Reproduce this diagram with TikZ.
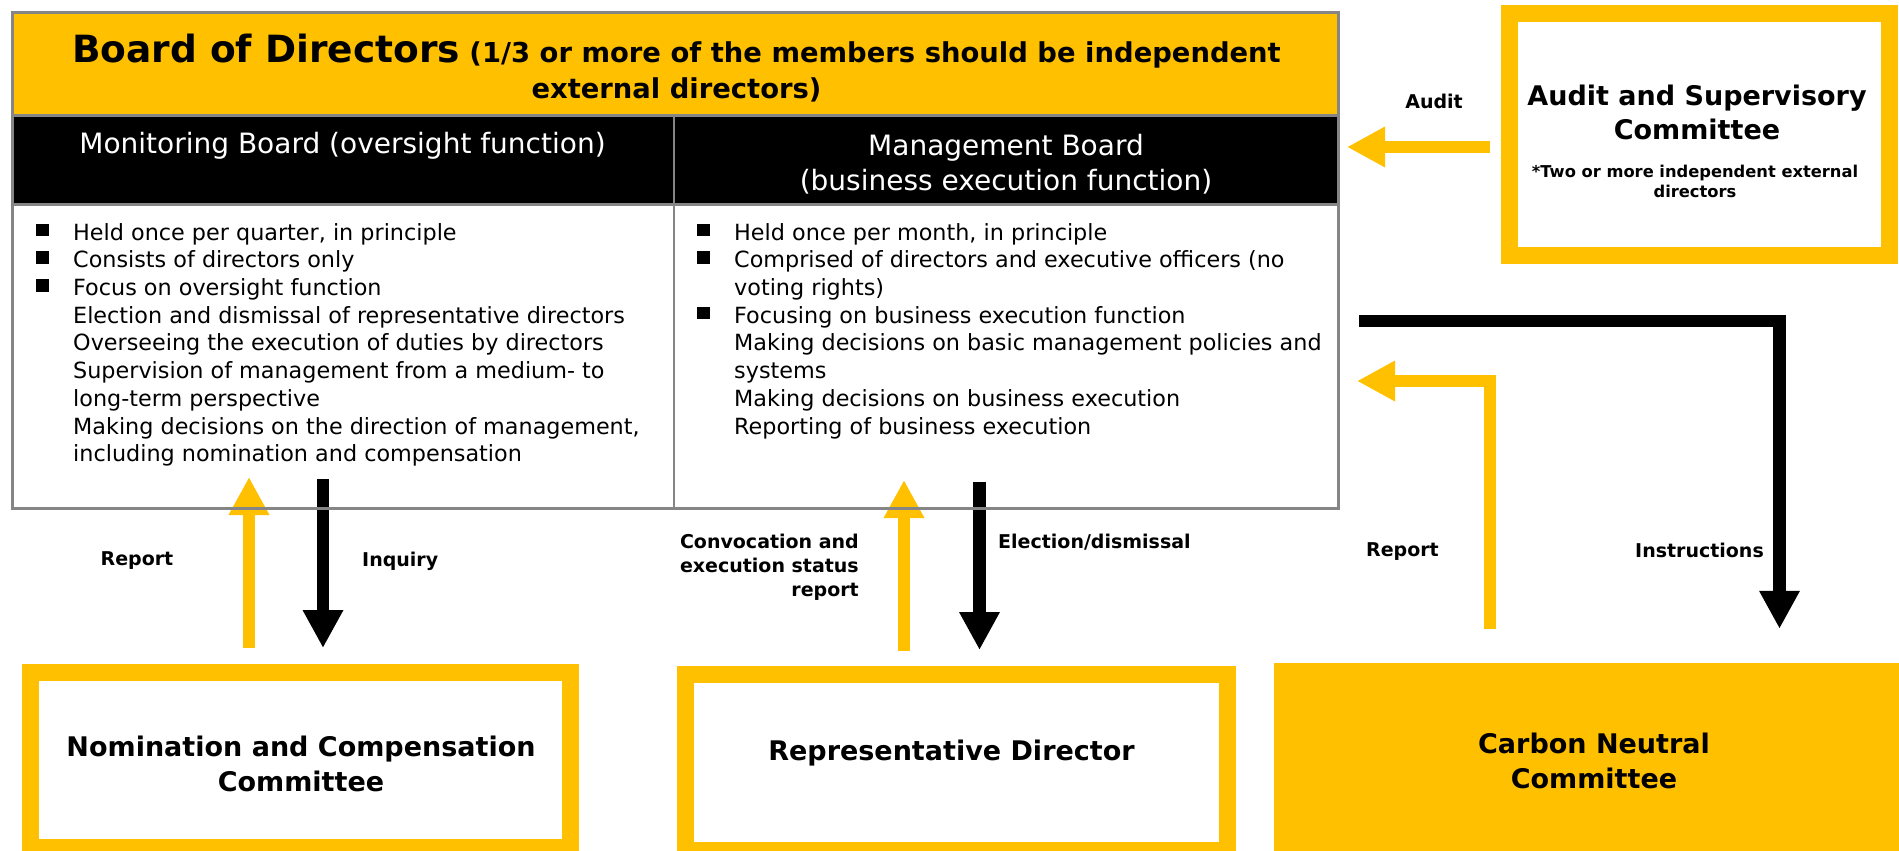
\documentclass[tikz,border=0pt]{standalone}
\usepackage{fontspec}
\setmainfont{DejaVu Sans}
\usepackage{tikz}
\usetikzlibrary{arrows.meta}
\usetikzlibrary{backgrounds}
\usetikzlibrary{calc}

\definecolor{gold}{HTML}{FFC000}
\definecolor{rulegray}{HTML}{858585}

\newcommand{\setsize}[2]{\fontsize{#1pt}{#2pt}\selectfont}
\newcommand{\bul}{\makebox[37pt][l]{\rule[4pt]{12.5pt}{12.5pt}}}
\newcommand{\nob}{\makebox[37pt][l]{}}

\begin{document}
\begin{tikzpicture}[x=1pt, y=-1pt,
  cell/.style={rectangle, draw=rulegray, line width=2.5pt, outer sep=0pt, inner sep=0pt},
  combox/.style={rectangle, draw=gold, line width=17pt, fill=white, outer sep=0pt, inner sep=0pt},
  comtext/.style={font=\bfseries\setsize{27}{35}, align=center, inner sep=0pt},
  bodytext/.style={font=\setsize{22.3}{27.7}, align=left, inner sep=0pt, anchor=north west},
  headtext/.style={font=\setsize{28}{35}, text=white, align=center, inner sep=0pt},
  lbl/.style={font=\bfseries\setsize{19}{24}, inner sep=0pt},
  goldarrow/.style={draw=gold, line width=12.5pt, -{Triangle[width=38pt,length=38pt]}},
  blackarrow/.style={draw=black, line width=12.5pt, line join=miter, -{Triangle[width=38pt,length=38pt]}}]
  \useasboundingbox (0,0) rectangle (1899,851);

  \node[cell, fill=gold, minimum width=1326pt, minimum height=103pt] (title) at (675.5,64) {};
  \node[cell, fill=black, minimum width=661.5pt, minimum height=89pt] (monhead) at (343.25,160) {};
  \node[cell, fill=black, minimum width=664.5pt, minimum height=89pt] (mgmthead) at (1006.25,160) {};
  \node[cell, minimum width=661.5pt, minimum height=304pt] (monbody) at (343.25,356.5) {};
  \node[cell, minimum width=664.5pt, minimum height=304pt] (mgmtbody) at (1006.25,356.5) {};

  \node[font=\bfseries\setsize{27.4}{36}, align=center, inner sep=0pt] (titletext) at (676.5,68.5)
    {{\setsize{37.5}{36}Board of Directors} (1/3 or more of the members should be independent\\external directors)};
  \node[headtext] (montitle) at (342.5,146) {Monitoring Board (oversight function)};
  \node[headtext] (mgmttitle) at (1006,164.5) {Management Board\\(business execution function)};

  \node[bodytext] (montext) at (36,223) {\bul Held once per quarter, in principle\\
    \bul Consists of directors only\\
    \bul Focus on oversight function\\
    \nob Election and dismissal of representative directors\\
    \nob Overseeing the execution of duties by directors\\
    \nob Supervision of management from a medium- to\\
    \nob long-term perspective\\
    \nob Making decisions on the direction of management,\\
    \nob including nomination and compensation};
  \node[bodytext] (mgmttext) at (697,223) {\bul Held once per month, in principle\\
    \bul Comprised of directors and executive officers (no\\
    \nob voting rights)\\
    \bul Focusing on business execution function\\
    \nob Making decisions on basic management policies and\\
    \nob systems\\
    \nob Making decisions on business execution\\
    \nob Reporting of business execution};

  \node[combox, minimum width=540pt, minimum height=175pt] (nomi) at (300.5,760) {};
  \node[comtext] (nomitext) at (301,764) {Nomination and Compensation\\Committee};
  \node[combox, minimum width=542pt, minimum height=176pt] (repdir) at (956.5,762.5) {};
  \node[comtext] (repdirtext) at (951.5,753) {Representative Director};
  \node[comtext, fill=gold, minimum width=640pt, minimum height=196pt] (carbon) at (1594,761) {Carbon Neutral\\Committee};
  \node[combox, minimum width=380pt, minimum height=241.5pt] (audit) at (1699.5,134.75) {};
  \node[comtext, font=\bfseries\setsize{27}{34}] (audittext) at (1697,112.8) {Audit and Supervisory\\Committee};
  \node[font=\bfseries\setsize{16.3}{20}, align=center, inner sep=0pt] (auditnote) at (1695,181.8)
    {*Two or more independent external\\directors};

  \begin{scope}[on background layer]
    \draw[goldarrow] ([xshift=-51.5pt,yshift=24.5pt]nomi.north) -- ([xshift=-94.25pt,yshift=31.5pt]monbody.south);
    \draw[blackarrow] ([xshift=-20.25pt,yshift=29.5pt]monbody.south) -- ([xshift=22.5pt,yshift=24.5pt]nomi.north);
    \draw[goldarrow] ([xshift=-52.5pt,yshift=23.5pt]repdir.north) -- ([xshift=-102.25pt,yshift=28.5pt]mgmtbody.south);
    \draw[blackarrow] ([xshift=-26.75pt,yshift=26.5pt]mgmtbody.south) -- ([xshift=23pt,yshift=24.5pt]repdir.north);
    \draw[goldarrow] ([xshift=-19.5pt,yshift=-12.25pt]audit.west) -- ([xshift=8.5pt,yshift=13pt]mgmthead.east);
    \draw[blackarrow] ([xshift=20.5pt,yshift=35.5pt]mgmtbody.east) -| ([xshift=185.5pt,yshift=34pt]carbon.north);
    \draw[goldarrow] ([xshift=-104pt,yshift=34pt]carbon.north) |- ([xshift=18.5pt,yshift=-24.5pt]mgmtbody.east);
  \end{scope}

  \node[lbl] (reportl) at (137,561) {Report};
  \node[lbl, anchor=west] (inquiryl) at (362,561) {Inquiry};
  \node[lbl, anchor=east, align=right] (convl) at (859,567) {Convocation and\\execution status\\report};
  \node[lbl, anchor=west] (electl) at (998,541.7) {Election/dismissal};
  \node[lbl] (auditl) at (1434,101) {Audit};
  \node[lbl] (reportr) at (1402.5,552) {Report};
  \node[lbl, anchor=east] (instrl) at (1764,550) {Instructions};
\end{tikzpicture}
\end{document}
